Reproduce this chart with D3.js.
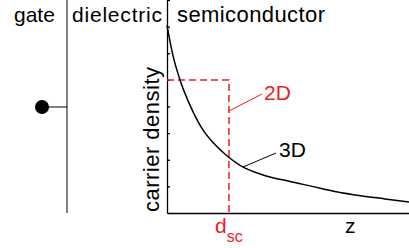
<!DOCTYPE html>
<html>
<head>
<meta charset="utf-8">
<script src="https://cdn.jsdelivr.net/npm/d3@7"></script>
<style>
  body { margin: 0; background: #fff; }
  text { font-family: "Liberation Sans", Arial, sans-serif; }
</style>
</head>
<body>
<svg id="chart" width="409" height="248"></svg>
<script>
// data
const zValues = [0, 0.25, 0.5, 1, 1.5, 2, 2.5, 3, 4, 5, 6, 7, 8, 9, 10];
const density3D = [7.05, 5.9, 5.1, 3.95, 3.1, 2.55, 2.13, 1.8, 1.42, 1.2, 1.0, 0.8, 0.65, 0.53, 0.41];
const dsc = 2.56;        // screening length
const density2D = 5;     // 2D sheet level
const layers = ["gate", "dielectric", "semiconductor"];
const yTicks = [1, 2, 3, 4, 5, 6, 7, 8];

const red = "#ec1c24";
const svg = d3.select("#chart");

const x = d3.scaleLinear().domain([0, 10]).range([167, 409]);
const y = d3.scaleLinear().domain([0, 8]).range([213, 0]);

// gate / dielectric boundary
svg.append("line")
  .attr("x1", 67).attr("x2", 67)
  .attr("y1", 0).attr("y2", y(0))
  .attr("stroke", "#808080")
  .attr("stroke-width", 2);

// gate contact
svg.append("line")
  .attr("x1", 42).attr("x2", 67)
  .attr("y1", 107).attr("y2", 107)
  .attr("stroke", "black")
  .attr("stroke-width", 1);
svg.append("circle")
  .attr("cx", 42).attr("cy", 107).attr("r", 7)
  .attr("fill", "black");

// axes
svg.append("g")
  .attr("transform", `translate(${x(0)},0)`)
  .call(d3.axisRight(y).tickValues(yTicks).tickSize(3).tickSizeOuter(0).tickFormat(""))
  .call(g => g.selectAll("path, line").attr("stroke", "black").attr("stroke-width", 1.3));

svg.append("g")
  .attr("transform", `translate(0,${y(0)})`)
  .call(d3.axisBottom(x).tickValues([]).tickSizeOuter(0))
  .call(g => g.select("path").attr("stroke", "black").attr("stroke-width", 1.3));

// 2D dashed guide
svg.append("path")
  .attr("d", d3.line()([[x(0), y(density2D)], [x(dsc), y(density2D)], [x(dsc), y(0)]]))
  .attr("fill", "none")
  .attr("stroke", red)
  .attr("stroke-width", 1.5)
  .attr("stroke-dasharray", "7,4");

// 3D curve
const pts = zValues.map((z, i) => [z, density3D[i]]);
svg.append("path")
  .datum(pts)
  .attr("fill", "none")
  .attr("stroke", "black")
  .attr("stroke-width", 1.5)
  .attr("d", d3.line().x(d => x(d[0])).y(d => y(d[1])).curve(d3.curveMonotoneX));

// pointer lines
svg.append("line")
  .attr("x1", x(dsc)).attr("y1", 111).attr("x2", 262).attr("y2", 94)
  .attr("stroke", red).attr("stroke-width", 1);
svg.append("line")
  .attr("x1", 243).attr("y1", 167).attr("x2", 276).attr("y2", 153)
  .attr("stroke", "black").attr("stroke-width", 1);

// labels
const layerX = [14, 72, 177];
const layerSize = [21, 21, 22];
const layerW = [null, 90, 148];
svg.selectAll("text.layer")
  .data(layers)
  .join("text")
  .attr("class", "layer")
  .attr("x", (d, i) => layerX[i])
  .attr("y", 22)
  .attr("font-size", (d, i) => layerSize[i])
  .attr("textLength", (d, i) => layerW[i])
  .attr("lengthAdjust", "spacing")
  .text(d => d);

svg.append("text")
  .attr("transform", `translate(159,${y(0) - 1}) rotate(-90)`)
  .attr("font-size", 22)
  .attr("textLength", 145)
  .attr("lengthAdjust", "spacing")
  .text("carrier density");

svg.append("text")
  .attr("x", 264).attr("y", 100)
  .attr("font-size", 21)
  .attr("fill", red)
  .text("2D");

svg.append("text")
  .attr("x", 279).attr("y", 157)
  .attr("font-size", 21)
  .text("3D");

const dl = svg.append("text")
  .attr("x", 215).attr("y", 233)
  .attr("font-size", 21)
  .attr("fill", red);
dl.append("tspan").text("d");
dl.append("tspan").attr("dy", 9).attr("font-size", 16).text("sc");

svg.append("text")
  .attr("x", 345).attr("y", 233)
  .attr("font-size", 21)
  .text("z");
</script>
</body>
</html>
